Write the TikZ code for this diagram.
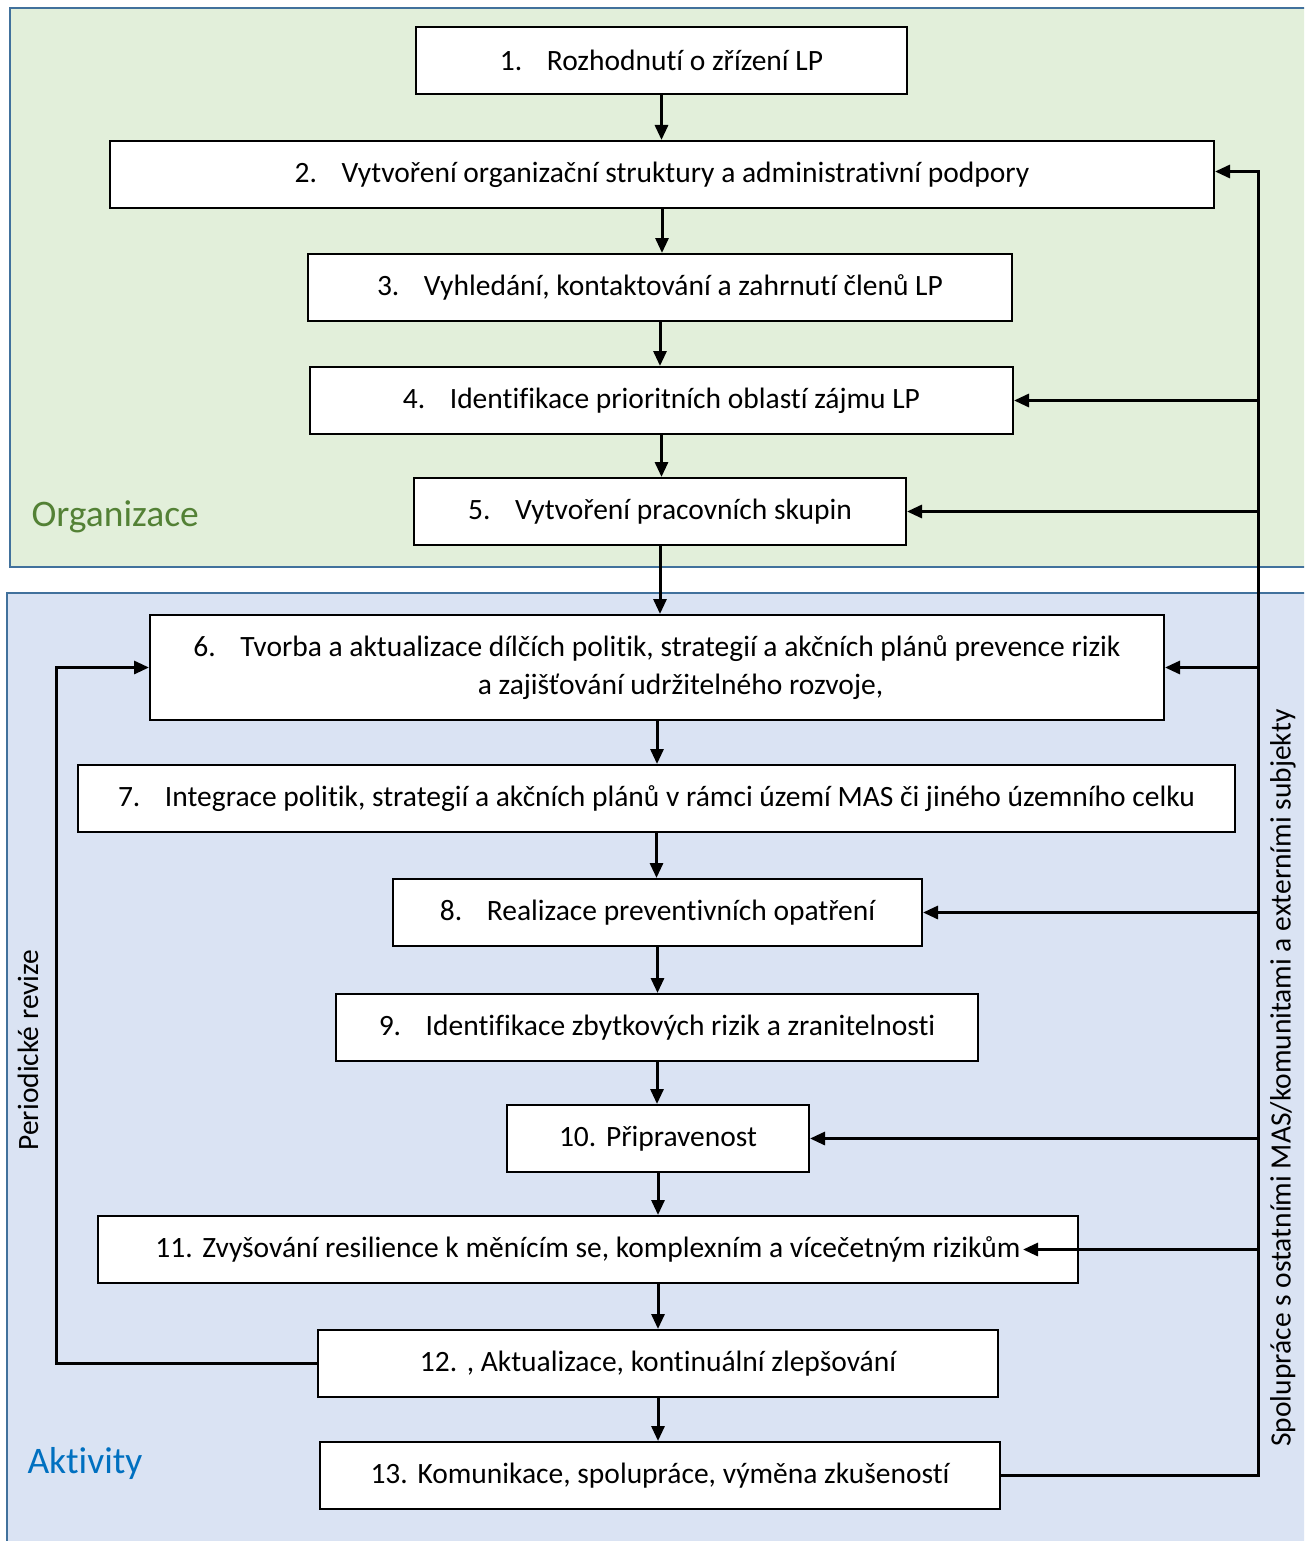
\documentclass[tikz,border=0pt]{standalone}
\usepackage{fontspec}
\setmainfont{Carlito}[RawFeature={-liga,-clig,-dlig}]
\usepackage{tikz}
\usetikzlibrary{arrows.meta,calc}
\usetikzlibrary{positioning}
\definecolor{orgfill}{HTML}{E2EFDA}
\definecolor{aktfill}{HTML}{DAE3F3}
\definecolor{frame}{HTML}{41719C}
\definecolor{orgtext}{HTML}{538135}
\definecolor{akttext}{HTML}{0070C0}
\newcommand{\itm}[2]{\makebox[47pt][l]{#1}#2}
\tikzset{
    krok/.style={
           rectangle,
           draw=black, line width=2pt,
           fill=white,
           minimum height=67pt,
           inner sep=0pt,
           font=\fontsize{29.5}{38}\selectfont,
           align=center,
           },
    pil/.style={
           -{Triangle[length=15pt,width=13pt]},
           line width=3pt,
           },
    oblast/.style={
           draw=frame,
           line width=2.5pt,
           },
    popis/.style={
           font=\fontsize{29.5}{36}\selectfont,
           rotate=90,
           }
}
\begin{document}
\begin{tikzpicture}[x=1pt,y=-1pt]
\useasboundingbox (0,0) rectangle (1304,1541);
\begin{scope}
\clip (0,0) rectangle (1304,1541);
\path[oblast, fill=orgfill] (10,8) rectangle (1320,567);
\path[oblast, fill=aktfill] (7,593) rectangle (1320,1560);
\end{scope}
\node[anchor=west, text=orgtext, font=\fontsize{37.5}{40}\selectfont] (org) at (28,517) {Organizace};
\node[anchor=west, text=akttext, font=\fontsize{37.5}{40}\selectfont] (akt) at (24,1463) {Aktivity};
% kroky
\node[krok, minimum width=491pt] (b1) at (661.5,60.5) {\itm{1.}{Rozhodnutí o zřízení LP}};
\node[krok, minimum width=1104pt] (b2) at (662,174.5) {\itm{2.}{Vytvoření organizační struktury a administrativní podpory}};
\node[krok, minimum width=704pt] (b3) at (660,287.5) {\itm{3.}{Vyhledání, kontaktování a zahrnutí členů LP}};
\node[krok, minimum width=703pt] (b4) at (661.5,400.5) {\itm{4.}{Identifikace prioritních oblastí zájmu LP}};
\node[krok, minimum width=492pt] (b5) at (660,511.5) {\itm{5.}{Vytvoření pracovních skupin}};
\node[krok, minimum width=1014pt, minimum height=105pt] (b6) at (657,667.5)
    {\itm{6.}{Tvorba a aktualizace dílčích politik, strategií a akčních plánů prevence rizik}\\
     \hspace*{47pt}a zajišťování udržitelného rozvoje,};
\node[krok, minimum width=1157pt] (b7) at (656.5,798.5) {\itm{7.}{Integrace politik, strategií a akčních plánů v rámci území MAS či jiného územního celku}};
\node[krok, minimum width=529pt] (b8) at (657.5,912.5) {\itm{8.}{Realizace preventivních opatření}};
\node[krok, minimum width=642pt] (b9) at (657,1027.5) {\itm{9.}{Identifikace zbytkových rizik a zranitelnosti}};
\node[krok, minimum width=302pt] (b10) at (658,1138.5) {\itm{10.}{Připravenost}};
\node[krok, minimum width=980pt] (b11) at (588,1249.5) {\itm{11.}{Zvyšování resilience k měnícím se, komplexním a vícečetným rizikům}};
\node[krok, minimum width=680pt] (b12) at (658,1363.5) {\itm{12.}{, Aktualizace, kontinuální zlepšování}};
\node[krok, minimum width=680pt] (b13) at (660,1475.5) {\itm{13.}{Komunikace, spolupráce, výměna zkušeností}};
% popisky
\node[popis] (rev) at (28,1050) {Periodické revize};
\node[popis] (spol) at (1283,1078) {Spolupráce s ostatními MAS/komunitami a externími subjekty};
% hlavni tok
\foreach \a/\b in {1/2,2/3,3/4,4/5,5/6,6/7,7/8,8/9,9/10,10/11,12/13}
    \draw[pil] (b\a.south) -- (b\a.south |- b\b.north);
\draw[pil] (b12.north |- b11.south) -- (b12.north);
% sbernice vpravo
\coordinate (bus) at (1258,0);
\coordinate (smycka) at (56,0);
\draw[pil] (b13.east) -- (b13.east -| bus) |- ($(b2.east)+(0,-3)$);
\foreach \n in {4,5,6,8,10}
    \draw[pil] (b\n.east -| bus) -- (b\n.east);
\draw[pil] (b11.east -| bus) -- ($(b11.east)+(-56,0)$);
% periodicke revize
\draw[pil] (b12.west) -- (b12.west -| smycka) |- (b6.west);
\end{tikzpicture}
\end{document}
